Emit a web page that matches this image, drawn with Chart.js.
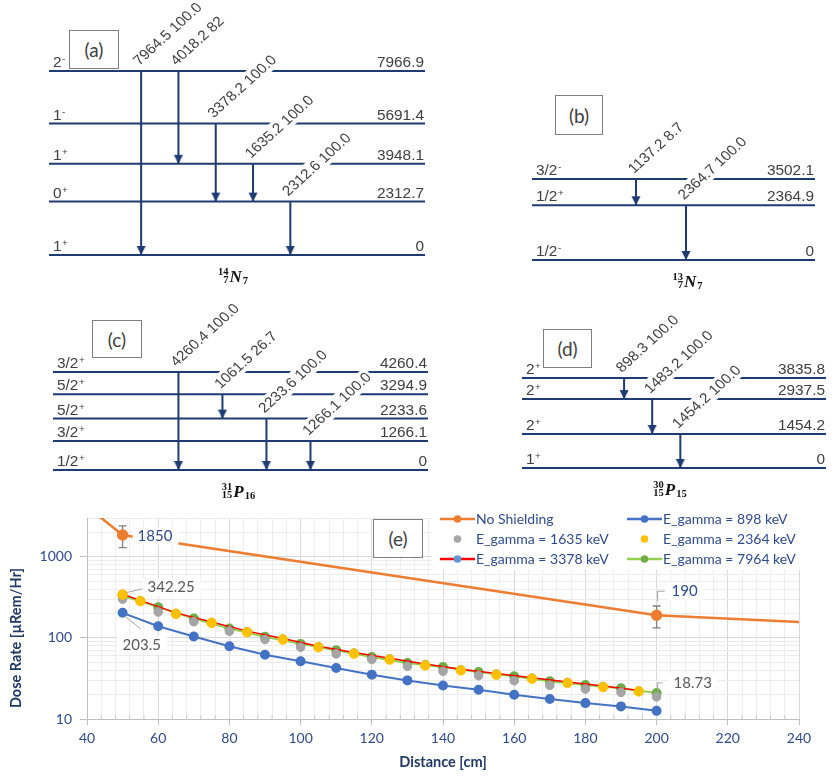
<!DOCTYPE html>
<html lang="en">
<head>
	<meta charset="utf-8">
	<title>Decay schemes and dose rate</title>
	<script src="https://cdn.jsdelivr.net/npm/chart.js@4.4.1/dist/chart.umd.min.js"></script>
	<style>
		body { margin: 0; background: #fff; }
		#page { position: relative; width: 832px; height: 778px; overflow: hidden; }
		#page canvas { position: absolute; }
		.tag {
			position: absolute;
			box-sizing: border-box;
			border: 1.3px solid #7f7f7f;
			background: #fff;
			color: #404040;
			font: 19px Lato, sans-serif;
			display: flex;
			align-items: center;
			justify-content: center;
			z-index: 5;
		}
	</style>
</head>
<body>
	<div id="page">
		<canvas id="pe" width="832" height="358" style="left:0;top:420px"></canvas>
		<canvas id="pa" width="440" height="300" style="left:0;top:0"></canvas>
		<canvas id="pb" width="312" height="220" style="left:520px;top:80px"></canvas>
		<canvas id="pc" width="420" height="205" style="left:30px;top:300px"></canvas>
		<canvas id="pd" width="372" height="205" style="left:460px;top:300px"></canvas>
		<div class="tag" style="left:69px;top:30px;width:50px;height:39px">(a)</div>
		<div class="tag" style="left:555px;top:95px;width:48px;height:40px">(b)</div>
		<div class="tag" style="left:92px;top:320px;width:50px;height:38px">(c)</div>
		<div class="tag" style="left:543px;top:329px;width:49px;height:39px">(d)</div>
		<div class="tag" style="left:373px;top:519px;width:50px;height:39px">(e)</div>
	</div>
	<script>
		// ---------- level schemes (keV) ----------
		// (a) 14N
		const A_LEVELS = [0, 2312.7, 3948.1, 5691.4, 7966.9];
		const A_SPINS = ['1+', '0+', '1+', '1-', '2-'];
		const A_FROM = [7966.9, 7966.9, 5691.4, 3948.1, 2312.7];
		const A_TO = [0, 3948.1, 2312.7, 2312.7, 0];
		const A_EG = ['7964.5', '4018.2', '3378.2', '1635.2', '2312.6'];
		const A_INT = ['100.0', '82', '100.0', '100.0', '100.0'];
		const A_NUC = ['14', '7', 'N', '7'];

		// (b) 13N
		const B_LEVELS = [0, 2364.9, 3502.1];
		const B_SPINS = ['1/2-', '1/2+', '3/2-'];
		const B_FROM = [3502.1, 2364.9];
		const B_TO = [2364.9, 0];
		const B_EG = ['1137.2', '2364.7'];
		const B_INT = ['8.7', '100.0'];
		const B_NUC = ['13', '7', 'N', '7'];

		// (c) 31P
		const C_LEVELS = [0, 1266.1, 2233.6, 3294.9, 4260.4];
		const C_SPINS = ['1/2+', '3/2+', '5/2+', '5/2+', '3/2+'];
		const C_FROM = [4260.4, 3294.9, 2233.6, 1266.1];
		const C_TO = [0, 2233.6, 0, 0];
		const C_EG = ['4260.4', '1061.5', '2233.6', '1266.1'];
		const C_INT = ['100.0', '26.7', '100.0', '100.0'];
		const C_NUC = ['31', '15', 'P', '16'];

		// (d) 30P
		const D_LEVELS = [0, 1454.2, 2937.5, 3835.8];
		const D_SPINS = ['1+', '2+', '2+', '2+'];
		const D_FROM = [3835.8, 2937.5, 1454.2];
		const D_TO = [2937.5, 1454.2, 0];
		const D_EG = ['898.3', '1483.2', '1454.2'];
		const D_INT = ['100.0', '100.0', '100.0'];
		const D_NUC = ['30', '15', 'P', '15'];

		// ---------- (e) dose rate vs distance ----------
		const X_TICKS = [40, 60, 80, 100, 120, 140, 160, 180, 200, 220, 240];
		const Y_TICKS = [10, 100, 1000];
		const NS_X = [40, 50, 200, 240];
		const NS_Y = [4150, 1850, 190, 157];
		const NS_ERR = [null, 555, 57, null];
		const DIST_10 = [50, 60, 70, 80, 90, 100, 110, 120, 130, 140, 150, 160, 170, 180, 190, 200];
		const DIST_5 = [50, 55, 65, 75, 85, 95, 105, 115, 125, 135, 145, 155, 165, 175, 185, 195];
		const G898 = [203.5, 139, 104, 79, 62, 51.4, 42.5, 35.2, 29.9, 25.9, 22.9, 19.9, 17.6, 15.7, 14.3, 12.6];
		const G1635 = [300, 208, 158, 121, 95.4, 76.7, 63.4, 54, 44.6, 38.7, 34.2, 29.6, 26, 23.4, 21.3, 18.73];
		const G2364 = [342.25, 284, 198, 153, 117.5, 95.3, 76.7, 64, 54, 45.9, 39.8, 35.2, 31.4, 27.8, 24.8, 21.9];
		const G3378 = [345, 290, 203, 157, 121, 98, 79, 66, 56, 47.5, 41, 36.3, 32.3, 28.6, 25.5, 22.5];
		const G7964 = [330, 239, 173, 130, 103, 84.3, 70.4, 58.2, 49.1, 43.8, 38, 33.6, 29.1, 26.2, 23.9, 20.9];

		const NAVY = '#1F3B73';
		const TXT = '#404040';
		const TICK_C = '#2F4B8C';
		const TITLE_C = '#1F3864';
		const STRETCH = 1.1;
		const FONT_LV = '14px "Liberation Sans", Arial, sans-serif';
		const FONT_SUP = '9px "Liberation Sans", Arial, sans-serif';

		function arrowHead(color) {
			// tip sits on the canvas centre, so it lands exactly on the data point
			const c = document.createElement('canvas');
			c.width = 10; c.height = 20;
			const g = c.getContext('2d');
			g.fillStyle = color;
			g.beginPath(); g.moveTo(0.5, 1); g.lineTo(9.5, 1); g.lineTo(5, 10); g.closePath(); g.fill();
			return c;
		}
		const HEAD = arrowHead(NAVY);

		function stext(ctx, str, x, y, align) {
			ctx.save();
			ctx.translate(x, y);
			ctx.scale(STRETCH, 1);
			ctx.textAlign = align;
			ctx.fillText(str, 0, 0);
			ctx.restore();
		}

		function spinText(ctx, s, x, y) {
			const base = s.slice(0, -1), sign = s.slice(-1);
			ctx.font = FONT_LV;
			stext(ctx, base, x, y, 'left');
			const w = ctx.measureText(base).width * STRETCH;
			ctx.font = FONT_SUP;
			stext(ctx, sign, x + w + 0.5, y - 5, 'left');
		}

		function nucText(ctx, n, cx, y) {
			const fSub = 'bold 10.5px "Liberation Serif", serif';
			const fSym = 'bold italic 17px "Liberation Serif", serif';
			ctx.font = fSub;
			const wPre = Math.max(ctx.measureText(n[0]).width, ctx.measureText(n[1]).width);
			const wN = ctx.measureText(n[3]).width;
			ctx.font = fSym;
			const wS = ctx.measureText(n[2]).width;
			const x0 = cx - (wPre + 1 + wS + 1 + wN) / 2;
			ctx.fillStyle = '#111';
			ctx.font = fSub;
			ctx.textAlign = 'right';
			ctx.fillText(n[0], x0 + wPre, y - 7);
			ctx.fillText(n[1], x0 + wPre, y + 1);
			ctx.textAlign = 'left';
			ctx.font = fSym;
			ctx.fillText(n[2], x0 + wPre + 1, y);
			ctx.font = fSub;
			ctx.fillText(n[3], x0 + wPre + 2 + wS, y + 2);
		}

		function levelText(p) {
			return {
				id: 'levelText',
				afterDatasetsDraw(chart) {
					const ctx = chart.ctx, xs = chart.scales.x, ys = chart.scales.y, ca = chart.chartArea;
					ctx.save();
					ctx.textBaseline = 'alphabetic';
					ctx.font = FONT_LV;
					const tags = p.eg.map((g, i) => ({
						txt: g + ' ' + p.inten[i],
						x: xs.getPixelForValue(i) - 2,
						y: ys.getPixelForValue(p.from[i]) - 5
					}));
					// white ground under the slanted gamma labels breaks the level lines
					for (const pass of [0, 1]) {
						tags.forEach(t => {
							ctx.save();
							ctx.translate(t.x, t.y);
							ctx.scale(STRETCH, 1);
							ctx.rotate(-Math.PI / 4);
							const w = ctx.measureText(t.txt).width;
							if (pass === 0) {
								ctx.fillStyle = '#fff';
								ctx.fillRect(-1, -13, w + 3, 17);
							} else {
								ctx.fillStyle = TXT;
								ctx.fillText(t.txt, 0, 0);
							}
							ctx.restore();
						});
					}
					ctx.fillStyle = TXT;
					p.levels.forEach((e, i) => {
						const y = ys.getPixelForValue(e) - 4;
						spinText(ctx, p.spins[i], ca.left + 4, y);
						ctx.font = FONT_LV;
						stext(ctx, e === 0 ? '0' : e.toFixed(1), ca.right - 1, y, 'right');
					});
					nucText(ctx, p.nuc, (ca.left + ca.right) / 2 + p.nucDx, ca.bottom + 27);
					ctx.restore();
				}
			};
		}

		function levelChart(p) {
			const xMin = p.x[0], xMax = p.x[1];
			const datasets = [];
			p.levels.forEach(e => datasets.push({
				data: [{ x: xMin, y: e }, { x: xMax, y: e }],
				borderColor: NAVY, borderWidth: 2, pointRadius: 0, clip: false
			}));
			p.from.forEach((e, i) => datasets.push({
				data: [{ x: i, y: e }, { x: i, y: p.to[i] }],
				borderColor: NAVY, borderWidth: 2, pointRadius: [0, 4], pointStyle: HEAD, clip: false
			}));
			return new Chart(document.getElementById(p.id), {
				type: 'line',
				data: { datasets: datasets },
				options: {
					responsive: false,
					animation: false,
					layout: { padding: p.pad },
					scales: {
						x: { type: 'linear', display: false, min: xMin, max: xMax },
						y: { type: 'linear', display: false, min: 0, max: Math.max(...p.levels) }
					},
					plugins: { legend: { display: false }, tooltip: { enabled: false } }
				},
				plugins: [levelText(p)]
			});
		}

		[
			{ id: 'pa', levels: A_LEVELS, spins: A_SPINS, from: A_FROM, to: A_TO, eg: A_EG, inten: A_INT, nuc: A_NUC,
				x: [-2.47, 7.61], pad: { left: 49, right: 15, top: 71, bottom: 45 }, nucDx: -4 },
			{ id: 'pb', levels: B_LEVELS, spins: B_SPINS, from: B_FROM, to: B_TO, eg: B_EG, inten: B_INT, nuc: B_NUC,
				x: [-2.08, 3.58], pad: { left: 12, right: 17, top: 99, bottom: 40 }, nucDx: 14 },
			{ id: 'pc', levels: C_LEVELS, spins: C_SPINS, from: C_FROM, to: C_TO, eg: C_EG, inten: C_INT, nuc: C_NUC,
				x: [-2.85, 5.67], pad: { left: 23, right: 22, top: 72, bottom: 35 }, nucDx: -2 },
			{ id: 'pd', levels: D_LEVELS, spins: D_SPINS, from: D_FROM, to: D_TO, eg: D_EG, inten: D_INT, nuc: D_NUC,
				x: [-3.63, 7.18], pad: { left: 62, right: 2, top: 78, bottom: 37 }, nucDx: -4 }
		].forEach(levelChart);

		// ---------- (e) ----------
		const pts = (xs, ys) => xs.map((x, i) => ({ x: x, y: ys[i] }));
		const X_MIN = X_TICKS[0], X_MAX = X_TICKS[X_TICKS.length - 1];
		const Y_MIN = 10, Y_MAX = 3000;
		const Y_GRID = [];
		Y_TICKS.forEach(d => { for (let k = 1; k <= 9; k++) if (d * k <= Y_MAX) Y_GRID.push(d * k); });

		const LABELS = [
			{ ds: 0, i: 1, dx: 15, dy: 1, color: TICK_C, lead: null },
			{ ds: 0, i: 2, dx: 15, dy: -24, color: TICK_C, lead: [[1, -14], [1, -24], [8, -24]] },
			{ ds: 3, i: 0, dx: 25, dy: -7, color: '#595959', lead: [[4, -2], [22, -6]] },
			{ ds: 1, i: 0, dx: 0, dy: 32, color: '#595959', lead: [[3, 4], [18, 16]] },
			{ ds: 2, i: 15, dx: 17, dy: -14, color: '#595959', lead: [[1, -6], [1, -14], [6, -14]] }
		];

		const doseExtras = {
			id: 'doseExtras',
			beforeDatasetsDraw(chart) {
				const ctx = chart.ctx, xs = chart.scales.x, ys = chart.scales.y, ca = chart.chartArea;
				ctx.save();
				// small inside ticks on the distance axis
				ctx.strokeStyle = '#c8c8c8';
				ctx.lineWidth = 1;
				xs.ticks.forEach(t => {
					if (X_TICKS.includes(t.value)) return;
					const x = xs.getPixelForValue(t.value);
					ctx.beginPath(); ctx.moveTo(x, ca.bottom); ctx.lineTo(x, ca.bottom - 4); ctx.stroke();
				});
				// error bars on the unshielded points
				const meta = chart.getDatasetMeta(0);
				ctx.strokeStyle = '#808080';
				ctx.lineWidth = 1.3;
				NS_ERR.forEach((e, i) => {
					if (e == null) return;
					const x = meta.data[i].x;
					const top = ys.getPixelForValue(NS_Y[i] + e), bot = ys.getPixelForValue(NS_Y[i] - e);
					ctx.beginPath();
					ctx.moveTo(x, top); ctx.lineTo(x, bot);
					ctx.moveTo(x - 4, top); ctx.lineTo(x + 4, top);
					ctx.moveTo(x - 4, bot); ctx.lineTo(x + 4, bot);
					ctx.stroke();
				});
				ctx.restore();
			},
			afterDatasetsDraw(chart) {
				const ctx = chart.ctx;
				ctx.save();
				ctx.font = '15px Lato, sans-serif';
				ctx.textBaseline = 'middle';
				ctx.textAlign = 'left';
				LABELS.forEach(l => {
					const el = chart.getDatasetMeta(l.ds).data[l.i];
					const txt = String(chart.data.datasets[l.ds].data[l.i].y);
					const tx = el.x + l.dx, ty = el.y + l.dy;
					if (l.lead) {
						ctx.strokeStyle = '#a6a6a6';
						ctx.lineWidth = 1;
						ctx.beginPath();
						l.lead.forEach((p, k) => k ? ctx.lineTo(el.x + p[0], el.y + p[1]) : ctx.moveTo(el.x + p[0], el.y + p[1]));
						ctx.stroke();
					}
					const w = ctx.measureText(txt).width;
					ctx.fillStyle = '#fff';
					ctx.fillRect(tx - 5, ty - 9, w + 11, 18);
					ctx.fillStyle = l.color;
					ctx.fillText(txt, tx, ty);
				});
				ctx.restore();
			},
			afterDraw(chart) {
				const ctx = chart.ctx, ca = chart.chartArea;
				ctx.save();
				// y axis title, sits a little below the plot centre
				ctx.fillStyle = TITLE_C;
				ctx.font = 'bold 14.5px Lato, sans-serif';
				ctx.textAlign = 'center';
				ctx.textBaseline = 'middle';
				ctx.translate(16, 218);
				ctx.rotate(-Math.PI / 2);
				ctx.fillText('Dose Rate [\u00b5Rem/Hr]', 0, 0);
				ctx.restore();

				// legend, two columns over a white ground
				ctx.save();
				ctx.fillStyle = '#fff';
				ctx.fillRect(432, 85, ca.right + 2 - 432, 65);
				ctx.font = '14px Lato, sans-serif';
				ctx.textBaseline = 'middle';
				ctx.textAlign = 'left';
				chart.data.datasets.forEach((d, i) => {
					const x0 = i % 2 ? 627 : 440;
					const y = 99 + Math.floor(i / 2) * 20;
					if (d.showLine !== false) {
						ctx.strokeStyle = d.borderColor;
						ctx.lineWidth = 2.5;
						ctx.beginPath(); ctx.moveTo(x0, y); ctx.lineTo(x0 + 35, y); ctx.stroke();
					}
					ctx.fillStyle = d.pointBackgroundColor;
					ctx.beginPath(); ctx.arc(x0 + 17.5, y, 3.8, 0, Math.PI * 2); ctx.fill();
					ctx.fillStyle = TICK_C;
					ctx.fillText(d.label, x0 + 36, y);
				});
				ctx.restore();
			}
		};

		const inside = c => (c.raw.x > X_MIN && c.raw.x < X_MAX && c.raw.y < Y_MAX);

		new Chart(document.getElementById('pe'), {
			type: 'line',
			data: {
				datasets: [
					{
						label: 'No Shielding', data: pts(NS_X, NS_Y), order: 5, clip: 0,
						borderColor: '#ED7D31', borderWidth: 2.5,
						pointBackgroundColor: '#ED7D31', pointBorderColor: '#ED7D31',
						pointRadius: c => inside(c) ? 4.5 : 0
					},
					{
						label: 'E_gamma = 898 keV', data: pts(DIST_10, G898), order: 4,
						borderColor: '#4472C4', borderWidth: 2,
						pointBackgroundColor: '#4472C4', pointBorderColor: '#4472C4', pointRadius: 4
					},
					{
						label: 'E_gamma = 1635 keV', data: pts(DIST_10, G1635), order: 1, showLine: false,
						borderColor: '#A5A5A5',
						pointBackgroundColor: '#A5A5A5', pointBorderColor: '#A5A5A5', pointRadius: 4.3
					},
					{
						label: 'E_gamma = 2364 keV', data: pts(DIST_5, G2364), order: 0, showLine: false,
						borderColor: '#FFC000',
						pointBackgroundColor: '#FFC000', pointBorderColor: '#FFC000', pointRadius: 4.8
					},
					{
						label: 'E_gamma = 3378 keV', data: pts(DIST_5, G3378), order: 2,
						borderColor: '#FF0000', borderWidth: 1.5,
						pointBackgroundColor: '#5B9BD5', pointBorderColor: '#5B9BD5', pointRadius: 3.5
					},
					{
						label: 'E_gamma = 7964 keV', data: pts(DIST_10, G7964), order: 3,
						borderColor: '#92D050', borderWidth: 2,
						pointBackgroundColor: '#70AD47', pointBorderColor: '#70AD47', pointRadius: 4
					}
				]
			},
			options: {
				responsive: false,
				animation: false,
				layout: { padding: { left: 0, right: 33, top: 98, bottom: 0 } },
				scales: {
					x: {
						type: 'linear', min: X_MIN, max: X_MAX,
						afterFit: s => { s.height = 59; },
						border: { color: '#bfbfbf' },
						grid: {
							color: c => X_TICKS.includes(c.tick.value) ? '#d9d9d9' : '#eeeeee',
							tickColor: c => X_TICKS.includes(c.tick.value) ? '#bfbfbf' : 'rgba(0,0,0,0)',
							tickLength: 6
						},
						ticks: {
							stepSize: 4, autoSkip: false, maxRotation: 0, padding: 5,
							color: TICK_C, font: { family: 'Lato', size: 14 },
							callback: v => X_TICKS.includes(v) ? v : ''
						},
						title: {
							display: true, text: 'Distance [cm]', color: TITLE_C,
							font: { family: 'Lato', size: 14.5, weight: 'bold' },
							padding: { top: 0, bottom: 7 }
						}
					},
					y: {
						type: 'logarithmic', min: Y_MIN, max: Y_MAX,
						afterFit: s => { s.width = 87; },
						afterBuildTicks: s => { s.ticks = Y_GRID.map(v => ({ value: v })); },
						border: { color: '#bfbfbf' },
						grid: {
							color: c => Y_TICKS.includes(c.tick.value) ? '#d9d9d9' : '#ececec',
							tickColor: c => Y_TICKS.includes(c.tick.value) ? '#bfbfbf' : 'rgba(0,0,0,0)',
							tickLength: 7
						},
						ticks: {
							autoSkip: false, padding: 8,
							color: TICK_C, font: { family: 'Lato', size: 14 },
							callback: v => Y_TICKS.includes(v) ? String(v) : ''
						}
					}
				},
				plugins: { legend: { display: false }, tooltip: { enabled: false } }
			},
			plugins: [doseExtras]
		});
	</script>
</body>
</html>
